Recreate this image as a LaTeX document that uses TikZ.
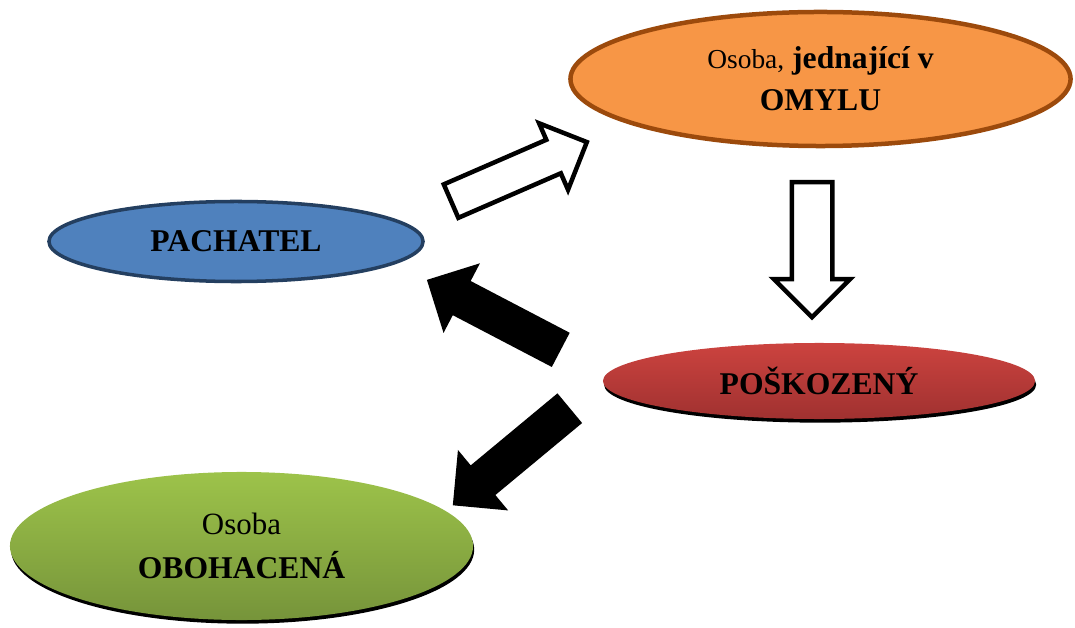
\documentclass[tikz,border=0pt]{standalone}
\usepackage{fontspec}
\setmainfont{Liberation Serif}
\usetikzlibrary{calc,
                positioning,
                shapes.geometric,
                shapes.arrows,
                shadows}
\definecolor{omylfill}{HTML}{F79646}
\definecolor{omylline}{HTML}{9C4A0C}
\definecolor{pachfill}{HTML}{4F81BD}
\definecolor{pachline}{HTML}{243F60}
\definecolor{poskotop}{HTML}{CC433F}
\definecolor{poskobot}{HTML}{A03130}
\definecolor{obohtop}{HTML}{9DC34A}
\definecolor{obohbot}{HTML}{76943A}

\tikzset{
	role/.style={ellipse, inner sep=0pt, align=center,
		font=\fontsize{22.5}{30}\selectfont\bfseries},
	castshadow/.style={drop shadow={shadow xshift=0.8pt, shadow yshift=-2.6pt,
		fill=black, opacity=1}},
	hollowarrow/.style={single arrow, draw=black, fill=white, line width=3.2pt,
		inner xsep=0pt, anchor=tail, single arrow head indent=0pt},
	fullarrow/.style={single arrow, fill=black,
		inner xsep=0pt, anchor=tail, single arrow head indent=0pt}
}

\begin{document}
\begin{tikzpicture}[x=0.025cm, y=-0.025cm]
	\useasboundingbox (0,0) rectangle (1075,628);
	% persons
	\node [role, fill=omylfill, draw=omylline, line width=3.2pt,
		minimum width=12.5cm, minimum height=3.35cm] (omyl) at (820.5,79)
		{{\mdseries\fontsize{19.5}{30}\selectfont Osoba,} jednající v\\OMYLU};
	\node [role, fill=pachfill, draw=pachline, line width=2.5pt,
		minimum width=9.35cm, minimum height=2cm] (pachatel) at (236,241.5)
		{PACHATEL};
	\node [role, castshadow, top color=poskotop, bottom color=poskobot,
		minimum width=10.8cm, minimum height=1.9cm] (poskozeny) at (819,381)
		{POŠKOZENÝ};
	\node [role, castshadow, top color=obohtop, bottom color=obohbot,
		font=\fontsize{22.5}{31}\selectfont\bfseries,
		minimum width=11.575cm, minimum height=3.7cm] (obohaceny) at (241.5,546)
		{{\mdseries\fontsize{22}{31}\selectfont Osoba}\\OBOHACENÁ};
	% arrows
	\node [hollowarrow, rotate=23.5, minimum height=3.7cm, inner ysep=0.4cm,
		single arrow head extend=0.45cm] (uvedeni) at (449,202) {};
	\node [hollowarrow, rotate=-90, minimum height=3.375cm, inner ysep=0.45cm,
		single arrow head extend=0.45cm] (plneni) at (812,180) {};
	\node [fullarrow, rotate=152.4, minimum height=3.775cm, inner ysep=0.475cm,
		single arrow head extend=0.5cm] (skoda) at (561,350) {};
	\node [fullarrow, rotate=219.7, minimum height=3.8cm, inner ysep=0.475cm,
		single arrow head extend=0.5cm] (prospech) at (570,408) {};
\end{tikzpicture}
\end{document}
